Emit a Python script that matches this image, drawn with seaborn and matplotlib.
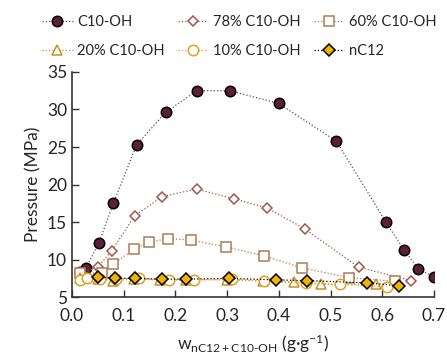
import numpy as np
import pandas as pd
import matplotlib
matplotlib.use('Agg')
import matplotlib.pyplot as plt
import seaborn as sns

# data
c10_x = [0.016, 0.027, 0.052, 0.080, 0.125, 0.181, 0.241, 0.305, 0.400, 0.511, 0.607, 0.642, 0.669, 0.700]
c10_y = [8.4, 8.9, 12.2, 17.5, 25.3, 29.6, 32.5, 32.5, 30.8, 25.8, 15.0, 11.3, 8.8, 7.7]

p78_x = [0.018, 0.050, 0.077, 0.121, 0.174, 0.241, 0.313, 0.377, 0.450, 0.554, 0.656]
p78_y = [8.2, 9.0, 11.2, 15.8, 18.4, 19.4, 18.1, 16.9, 14.1, 9.0, 7.2]

p60_x = [0.015, 0.058, 0.080, 0.120, 0.149, 0.185, 0.230, 0.298, 0.371, 0.445, 0.536, 0.624]
p60_y = [8.2, 8.2, 9.4, 11.4, 12.3, 12.8, 12.6, 11.7, 10.5, 8.9, 7.6, 7.1]

p20_x = [0.015, 0.050, 0.080, 0.120, 0.170, 0.220, 0.300, 0.370, 0.429, 0.481, 0.588]
p20_y = [7.5, 7.4, 7.2, 7.4, 7.3, 7.3, 7.3, 7.2, 7.0, 6.7, 6.7]

p10_x = [0.015, 0.030, 0.055, 0.085, 0.130, 0.188, 0.236, 0.310, 0.371, 0.452, 0.519, 0.609]
p10_y = [7.3, 7.5, 7.4, 7.4, 7.5, 7.3, 7.3, 7.4, 7.1, 6.9, 6.7, 6.4]

nc12_x = [0.050, 0.083, 0.122, 0.174, 0.221, 0.304, 0.394, 0.454, 0.571, 0.633]
nc12_y = [7.7, 7.5, 7.5, 7.4, 7.4, 7.5, 7.3, 7.2, 6.9, 6.5]

series = [
    ('C10-OH', c10_x, c10_y, dict(marker='o', ms=7.5, mfc='#5c1f38', mec='black', color='#555555')),
    ('78% C10-OH', p78_x, p78_y, dict(marker='D', ms=5.5, mfc='white', mec='#a0584a', color='#a0584a')),
    ('60% C10-OH', p60_x, p60_y, dict(marker='s', ms=7, mfc='white', mec='#b07a52', color='#b07a52')),
    ('20% C10-OH', p20_x, p20_y, dict(marker='^', ms=7.5, mfc='white', mec='#c8902a', color='#c8902a')),
    ('10% C10-OH', p10_x, p10_y, dict(marker='o', ms=7.5, mfc='white', mec='#e0a020', color='#e0a020')),
    ('nC12', nc12_x, nc12_y, dict(marker='D', ms=6, mfc='#f0b400', mec='black', color='black')),
]

sns.set_style('ticks')
plt.rcParams['font.family'] = ['Lato', 'DejaVu Sans']
plt.rcParams['mathtext.fontset'] = 'custom'
plt.rcParams['mathtext.rm'] = 'Lato'
plt.rcParams['mathtext.it'] = 'Lato'

fig = plt.figure(figsize=(4.47, 3.58), dpi=100)
ax = fig.add_axes([0.161, 0.170, 0.810, 0.629])

for name, xs, ys, st in series:
    df = pd.DataFrame({'x': xs, 'y': ys})
    sns.lineplot(data=df, x='x', y='y', ax=ax, linestyle=':', lw=0.9,
                 marker=st['marker'], markersize=st['ms'], markerfacecolor=st['mfc'],
                 markeredgecolor=st['mec'], markeredgewidth=1.1, color=st['color'],
                 label=name, errorbar=None, legend=False)

ax.set_xlim(0, 0.7)
ax.set_ylim(5, 35)
ax.set_xticks(np.arange(0, 0.71, 0.1))
ax.set_xticklabels([f'{v:.1f}' for v in np.arange(0, 0.71, 0.1)])
ax.set_yticks([5, 10, 15, 20, 25, 30, 35])
ax.tick_params(direction='in', length=5, width=1, labelsize=12.5, color='#333333')
ax.tick_params(axis='x', pad=8)
for s in ['top', 'right']:
    ax.spines[s].set_visible(False)
for s in ['left', 'bottom']:
    ax.spines[s].set_linewidth(1.2)
    ax.spines[s].set_color('#333333')

ax.set_ylabel('Pressure (MPa)', fontsize=12.5, labelpad=4)
ax.set_xlabel(r'w$_{\mathrm{nC12+C10\text{-}OH}}$ (g·g$^{\mathrm{-1}}$)', fontsize=12.5, labelpad=6)

handles, labels = ax.get_legend_handles_labels()
order = [0, 3, 1, 4, 2, 5]
fig.legend([handles[i] for i in order], [labels[i] for i in order], ncol=3,
           loc='upper center', bbox_to_anchor=(0.535, 0.995),
           frameon=False, fontsize=10.5, handlelength=2.1, columnspacing=0.9,
           handletextpad=0.3, labelspacing=1.05)

fig.savefig('out.png', dpi=100)
